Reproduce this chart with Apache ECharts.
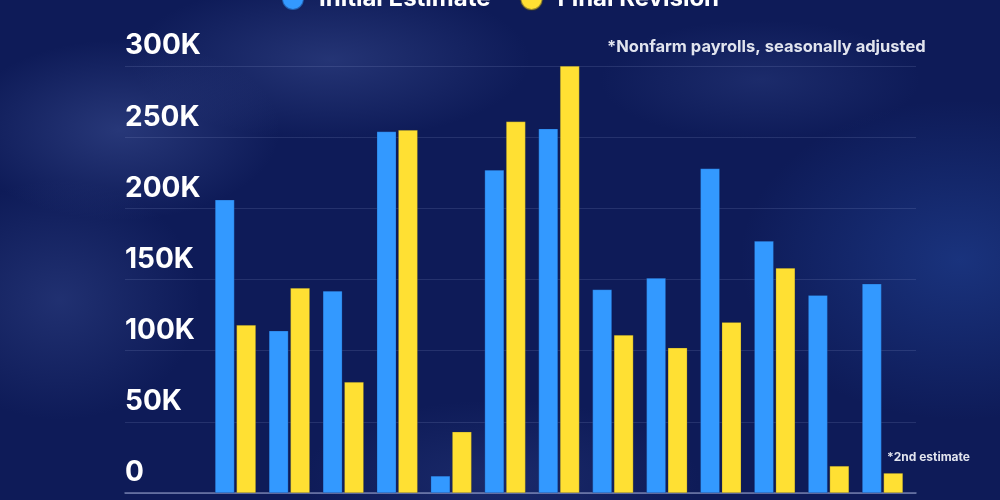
<!DOCTYPE html>
<html>
<head>
<meta charset="utf-8">
<script src="https://cdn.jsdelivr.net/npm/echarts@6/dist/echarts.min.js"></script>
<style>
html,body{margin:0;padding:0;width:1000px;height:500px;overflow:hidden;}
body{
  background:
    radial-gradient(ellipse 160px 90px at 120px 130px, rgba(70,90,160,0.45), rgba(70,90,160,0) 100%),
    radial-gradient(ellipse 200px 80px at 330px 60px, rgba(70,90,160,0.4), rgba(70,90,160,0) 100%),
    radial-gradient(ellipse 140px 120px at 60px 300px, rgba(60,80,150,0.4), rgba(60,80,150,0) 100%),
    radial-gradient(ellipse 220px 160px at 960px 260px, rgba(40,80,170,0.45), rgba(40,80,170,0) 100%),
    radial-gradient(ellipse 160px 60px at 760px 80px, rgba(60,80,150,0.3), rgba(60,80,150,0) 100%),
    radial-gradient(ellipse 200px 80px at 500px 480px, rgba(50,70,140,0.35), rgba(50,70,140,0) 100%),
    #0e1b58;
}
#c{width:1000px;height:500px;}
</style>
</head>
<body>
<div id="c"></div>
<script>
// Data (thousands of jobs)
const categories = ["Jun '24","Jul '24","Aug '24","Sep '24","Oct '24","Nov '24","Dec '24","Jan '25","Feb '25","Mar '25","Apr '25","May '25","Jun '25"];
const initialEstimate = [206, 114, 142, 254, 12, 227, 256, 143, 151, 228, 177, 139, 147];
const finalRevision   = [118, 144, 78, 255, 43, 261, 300, 111, 102, 120, 158, 19, 14];
const yTicks = [0, 50, 100, 150, 200, 250, 300];

const BLUE = '#3399ff';
const YELLOW = '#ffe033';
const FONT = 'Inter, "Noto Sans", sans-serif';

const chart = echarts.init(document.getElementById('c'));
chart.setOption({
  backgroundColor: 'transparent',
  animation: false,
  legend: {
    top: -18,
    left: 'center',
    icon: 'circle',
    itemWidth: 22,
    itemHeight: 22,
    itemGap: 29,
    textStyle: { color: '#ffffff', fontSize: 24, fontWeight: 'bold', fontFamily: FONT, padding: [0, 0, 0, 10] },
    data: ['Initial Estimate', 'Final Revision']
  },
  grid: [
    { left: 208.5, right: 90.5, top: 66, bottom: 7 },
    { left: 125, right: 84, top: 66, bottom: 7 }
  ],
  xAxis: [
    { type: 'category', gridIndex: 0, data: categories, axisLine: { show: false }, axisTick: { show: false }, axisLabel: { show: false } },
    { type: 'category', gridIndex: 1, data: [''], axisLine: { show: true, lineStyle: { color: 'rgba(190,200,235,0.55)', width: 1.5 } }, axisTick: { show: false }, axisLabel: { show: false } }
  ],
  yAxis: [
    { type: 'value', gridIndex: 0, min: 0, max: 300, interval: 50, axisLine: { show: false }, axisTick: { show: false }, axisLabel: { show: false }, splitLine: { show: false } },
    { type: 'value', gridIndex: 1, min: 0, max: 300, interval: 50,
      axisLine: { show: false }, axisTick: { show: false },
      splitLine: { show: true, lineStyle: { color: 'rgba(160,175,225,0.16)', width: 1 } },
      axisLabel: {
        inside: true, margin: 0, align: 'left', verticalAlign: 'bottom',
        lineHeight: 40,
        color: '#ffffff', fontSize: 28, fontWeight: 'bold', fontFamily: FONT,
        formatter: v => yTicks.includes(v) ? (v === 0 ? '0' : v + 'K') : ''
      }
    }
  ],
  graphic: [
    { type: 'text', left: 607, top: 39, style: { text: '*Nonfarm payrolls, seasonally adjusted', fill: '#e1e4ee', font: 'bold 16.5px ' + FONT } },
    { type: 'text', left: 887, top: 451, style: { text: '*2nd estimate', fill: '#e1e4ee', font: 'bold 12px ' + FONT } }
  ],
  series: [
    { name: 'Initial Estimate', type: 'bar', xAxisIndex: 0, yAxisIndex: 0, data: initialEstimate, barWidth: 19.5, barGap: '10%',
      itemStyle: { color: BLUE, borderColor: 'rgba(20,40,100,0.5)', borderWidth: 0.5 } },
    { name: 'Final Revision', type: 'bar', xAxisIndex: 0, yAxisIndex: 0, data: finalRevision, barWidth: 19.5, barGap: '10%',
      itemStyle: { color: YELLOW, borderColor: 'rgba(60,60,40,0.5)', borderWidth: 0.5 } }
  ]
});
</script>
</body>
</html>
